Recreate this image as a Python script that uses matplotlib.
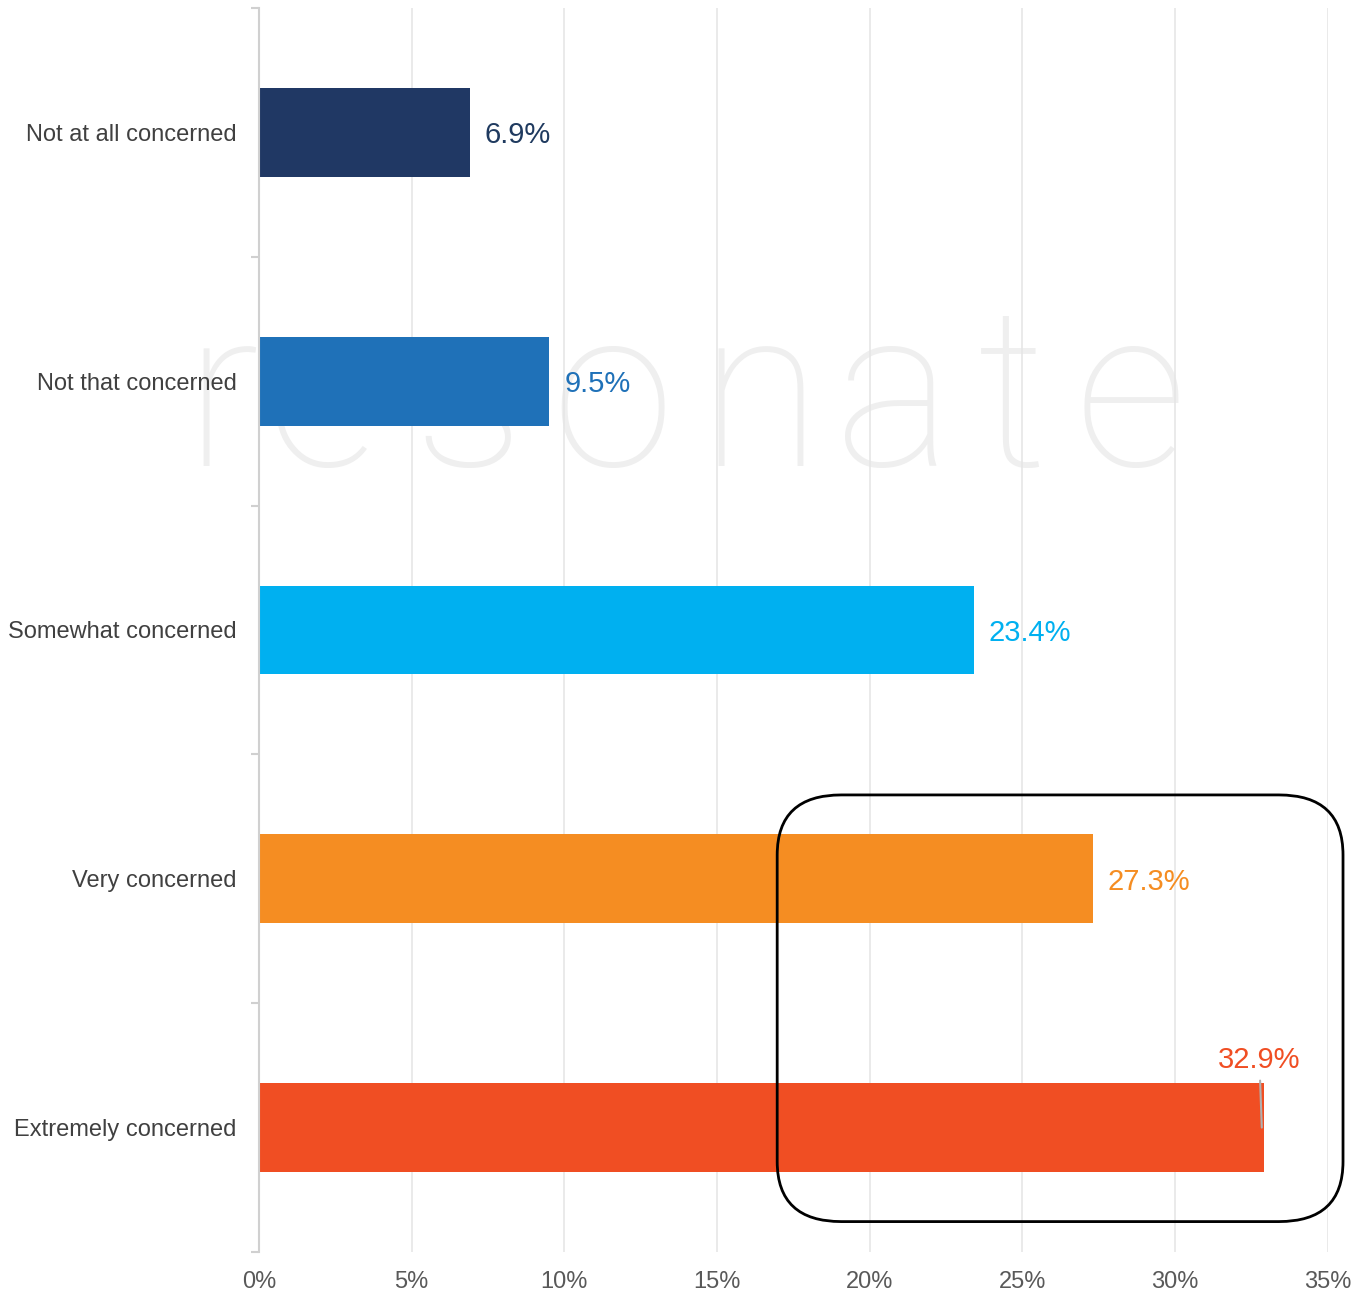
import numpy as np
import matplotlib.pyplot as plt
from matplotlib.patches import FancyBboxPatch

plt.rcParams['font.family'] = ['Liberation Sans', 'DejaVu Sans']

# Data
categories = ['Not at all concerned', 'Not that concerned', 'Somewhat concerned',
              'Very concerned', 'Extremely concerned']
values = [6.9, 9.5, 23.4, 27.3, 32.9]
colors = ['#203864', '#1F71B8', '#00B0F0', '#F58D22', '#F04E23']
label_colors = ['#1F3A5F', '#1F71B8', '#00B0F0', '#F58D22', '#F04E23']
xticks = [0, 5, 10, 15, 20, 25, 30, 35]

# watermark letters and their x centres (figure pixels)
wm_letters = list('resonate')
wm_xpos = [222, 323, 469, 612, 760, 894, 1012, 1130]

fig = plt.figure(figsize=(13.66, 12.94), dpi=100)
ax = fig.add_axes([0.1896, 0.0325, 0.7824, 0.9613])

y = np.arange(len(categories))
ax.barh(y, values, height=0.357, color=colors, zorder=3)

ax.set_xlim(0, 35)
ax.set_ylim(len(categories) - 0.5, -0.5)

# Watermark, spaced out letter by letter, behind the bars
for ch, xp in zip(wm_letters, wm_xpos):
    ax.text(xp / 1366, 1 - 466 / 1294, ch, transform=fig.transFigure,
            fontsize=160, family='Roboto', fontweight='light',
            color='#efefef', ha='center', va='baseline', zorder=1,
            clip_on=False)

# Value labels
for i, (v, c) in enumerate(zip(values, label_colors)):
    if i == len(values) - 1:
        # last label sits above the bar with a small leader line
        ax.annotate('%.1f%%' % v, xy=(v - 0.06, i), xytext=(v - 0.14, i - 0.285),
                    fontsize=21, color=c, ha='center', va='center_baseline',
                    zorder=4,
                    arrowprops=dict(arrowstyle='-', color='#b0b0b0', lw=1.5,
                                    shrinkA=3, shrinkB=0))
    else:
        ax.text(v + 0.5, i, '%.1f%%' % v, fontsize=21, color=c,
                ha='left', va='center_baseline', zorder=4)

# Highlight box
box = FancyBboxPatch((16.97, 2.663), 18.53, 1.715,
                     boxstyle='round,pad=0,rounding_size=2.1',
                     mutation_aspect=0.115, fill=False, edgecolor='black',
                     lw=2, zorder=5, clip_on=False)
ax.add_patch(box)

# Axes styling
ax.set_xticks(xticks)
ax.set_xticklabels(['%d%%' % t for t in xticks], fontsize=17, color='#595959')
ax.tick_params(axis='x', length=0, pad=14)
ax.grid(axis='x', color='#e6e6e6', lw=1.2, zorder=0)

ax.set_yticks(y)
ax.set_yticklabels(categories, fontsize=17, color='#404040')
ax.tick_params(axis='y', length=0, pad=16)
ax.set_yticks(np.arange(-0.5, len(categories), 1), minor=True)
ax.tick_params(axis='y', which='minor', length=6, color='#d0d0d0', width=1.5)

for s in ['top', 'right', 'bottom']:
    ax.spines[s].set_visible(False)
ax.spines['left'].set_color('#d0d0d0')
ax.spines['left'].set_linewidth(1.5)
ax.spines['left'].set_zorder(4)

plt.savefig('out.png', dpi=100)
